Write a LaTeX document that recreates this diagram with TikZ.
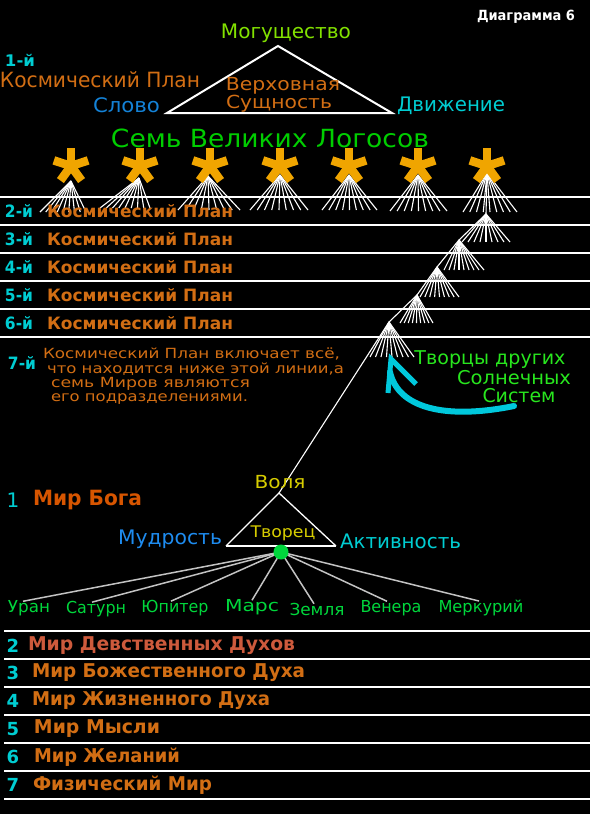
\documentclass[tikz,border=0pt]{standalone}
\usepackage{fontspec}
\usepackage{graphicx}
\setmainfont{DejaVu Sans}
\definecolor{orng}{RGB}{210,110,20}
\definecolor{orng2}{RGB}{205,90,60}
\definecolor{cyn}{RGB}{0,205,210}
\definecolor{blu}{RGB}{20,130,215}
\definecolor{limec}{RGB}{130,225,0}
\definecolor{grn}{RGB}{0,205,0}
\definecolor{starc}{RGB}{240,165,0}
\definecolor{tgrn}{RGB}{40,230,30}
\definecolor{yel}{RGB}{215,205,0}
\definecolor{mblu}{RGB}{30,140,240}
\definecolor{pgrn}{RGB}{0,215,60}
\definecolor{mirc}{RGB}{215,85,0}
\definecolor{arrc}{RGB}{0,200,220}
\definecolor{lgray}{RGB}{195,195,195}
\newcommand\fsz[1]{\fontsize{#1}{#1}\selectfont}
\newcommand\tx[2]{\resizebox{#1pt}{\height}{#2}}
\tikzset{
  lbl/.style={inner sep=0pt, outer sep=0pt},
  hline/.style={white, line width=2pt},
  fanline/.style={white, line width=1.1pt},
  starln/.style={starc, line width=8.5pt},
  tri/.style={white, line width=2pt, line join=miter},
}
\newcommand\fan[4]{\foreach \i in {0,...,8} {\draw[fanline] (#1) -- ({#3+\i*(#4-#3)/8},#2);}}
\newcommand\astar[1]{\foreach \a in {-90,-18,-162,-234,-306} {\draw[starln] (#1) -- ++(\a:18);}}
\begin{document}
\begin{tikzpicture}[x=1pt,y=-1pt]
\fill[black] (0,0) rectangle (590,814);
\useasboundingbox (0,0) rectangle (590,814);

% title
\node[lbl, white, font=\fsz{14}\bfseries] (title) at (526,17) {\tx{98}{Диаграмма 6}};

% top triangle
\coordinate (ta) at (278,46);
\coordinate (tl) at (167,113);
\coordinate (tr) at (392,113);
\draw[tri] (ta) -- (tl) -- (tr) -- cycle;
\node[lbl, limec, font=\fsz{20}] (mog) at (286,33) {\tx{130}{Могущество}};
\node[lbl, cyn, font=\fsz{16}\bfseries, anchor=west] (p1n) at (5,60) {\tx{30}{1-й}};
\node[lbl, orng, font=\fsz{21}, anchor=west] (p1t) at (0,80) {\tx{200}{Космический План}};
\node[lbl, orng, font=\fsz{18}] (verh) at (283,86) {\tx{114}{Верховная}};
\node[lbl, orng, font=\fsz{18}] (sush) at (279,104) {\tx{106}{Сущность}};
\node[lbl, blu, font=\fsz{20}, anchor=west] (slovo) at (93,105) {\tx{67}{Слово}};
\node[lbl, cyn, font=\fsz{20}, anchor=west] (dvizh) at (397,106) {\tx{108}{Движение}};
\node[lbl, grn, font=\fsz{25}] (logos) at (270,138) {\tx{318}{Семь Великих Логосов}};

% horizontal lines of cosmic planes
\foreach \yy/\nm in {197/c1,225/c2,253/c3,281/c4,309/c5,337/c6} {
  \coordinate (\nm l) at (0,\yy);
  \coordinate (\nm r) at (590,\yy);
  \draw[hline] (\nm l) -- (\nm r);
}

% fans under stars
\coordinate (f1) at (71,181);
\coordinate (f2) at (139,178);
\coordinate (f3) at (208,176);
\coordinate (f4) at (280,175);
\coordinate (f5) at (349,175);
\coordinate (f6) at (418,175);
\coordinate (f7) at (487,173);
\coordinate (f8) at (486,214);
\coordinate (f9) at (459,240);
\coordinate (f10) at (437,267);
\coordinate (f11) at (417,295);
\coordinate (f12) at (389,322);
\fan{f1}{212}{40}{86}
\fan{f2}{208}{100}{150}
\fan{f3}{210}{178}{240}
\fan{f4}{210}{250}{308}
\fan{f5}{210}{322}{377}
\fan{f6}{211}{390}{447}
\fan{f7}{212}{463}{517}
\fan{f8}{242}{462}{510}
\fan{f9}{270}{444}{484}
\fan{f10}{297}{420}{459}
\fan{f11}{323}{400}{433}
\fan{f12}{357}{370}{414}
\draw[fanline] (f7) -- (f8) -- (f9) -- (f10) -- (f11) -- (f12);

% stars
\foreach \sx/\nm in {71/s1,140/s2,210/s3,280/s4,349/s5,418/s6,487/s7} {
  \coordinate (\nm) at (\sx,166);
  \astar{\nm}
}

% cosmic plane labels
\foreach \yy/\n in {211/2,239/3,267/4,295/5,323/6} {
  \node[lbl, cyn, font=\fsz{17}\bfseries, anchor=west] (pn\n) at (5,\yy) {\tx{28}{\n-й}};
  \node[lbl, orng, font=\fsz{17}\bfseries, anchor=west] (pt\n) at (47,\yy) {\tx{186}{Космический План}};
}
\node[lbl, cyn, font=\fsz{17}\bfseries, anchor=west] (pn7) at (8,363) {\tx{28}{7-й}};
\node[lbl, orng, font=\fsz{14}, anchor=west] (para1) at (43,354) {\tx{297}{Космический План включает всё,}};
\node[lbl, orng, font=\fsz{14}, anchor=west] (para2) at (47,369) {\tx{297}{что находится ниже этой линии,а}};
\node[lbl, orng, font=\fsz{14}, anchor=west] (para3) at (51,384) {\tx{199}{семь Миров являются}};
\node[lbl, orng, font=\fsz{14}, anchor=west] (para4) at (51,399) {\tx{197}{его подразделениями.}};

% creators of other solar systems
\node[lbl, tgrn, font=\fsz{19}] (tv1) at (490,360) {\tx{151}{Творцы других}};
\node[lbl, tgrn, font=\fsz{19}] (tv2) at (514,378) {\tx{114}{Солнечных}};
\node[lbl, tgrn, font=\fsz{19}] (tv3) at (519,396) {\tx{73}{Систем}};

% cyan arrow
\coordinate (as) at (514,406);
\coordinate (at) at (391,359);
\coordinate (aa1) at (388,393);
\coordinate (aa2) at (416,384);
\draw[arrc, line width=6pt, line cap=round] (as) .. controls (445,420) and (398,408) .. (390,372);
\draw[arrc, line width=5pt, line cap=butt, line join=miter] (aa1) -- (at) -- (aa2);

% lower triangle
\coordinate (la) at (279,493);
\coordinate (ll) at (226,546);
\coordinate (lr) at (336,546);
\draw[fanline] (f12) -- (la);
\draw[white, line width=1.3pt] (ll) -- (la) -- (lr);
\draw[white, line width=2.5pt] (ll) -- (lr);
\node[lbl, yel, font=\fsz{18}] (volya) at (280,482) {\tx{51}{Воля}};
\node[lbl, mblu, font=\fsz{20}, anchor=west] (mudr) at (118,539) {\tx{104}{Мудрость}};
\node[lbl, cyn, font=\fsz{20}, anchor=west] (aktiv) at (340,541) {\tx{121}{Активность}};
\node[lbl, yel, font=\fsz{16}] (tvorets) at (283,533) {\tx{65}{Творец}};
\node[lbl, cyn, font=\fsz{20}] (n1) at (13,500) {1};
\node[lbl, mirc, font=\fsz{21}\bfseries, anchor=west] (mirboga) at (33,500) {\tx{109}{Мир Бога}};

% planets
\node[lbl, pgrn, font=\fsz{16.5}] (p1) at (29,608) {\tx{42}{Уран}};
\node[lbl, pgrn, font=\fsz{16.5}] (p2) at (96,609) {\tx{60}{Сатурн}};
\node[lbl, pgrn, font=\fsz{16.5}] (p3) at (175,608) {\tx{67}{Юпитер}};
\node[lbl, pgrn, font=\fsz{16.5}] (p4) at (252,607) {\tx{54}{Марс}};
\node[lbl, pgrn, font=\fsz{16.5}] (p5) at (317,609) {\tx{55}{Земля}};
\node[lbl, pgrn, font=\fsz{16.5}] (p6) at (391,608) {\tx{61}{Венера}};
\node[lbl, pgrn, font=\fsz{16.5}] (p7) at (481,608) {\tx{85}{Меркурий}};
\coordinate (dotc) at (281,552);
\foreach \p/\dx in {p1/-6,p2/-4,p3/-4,p4/0,p5/-3,p6/-4,p7/-2} {
  \draw[lgray, line width=1.5pt] (dotc) -- ([xshift=\dx pt, yshift=-1pt]\p.north);
}
\fill[pgrn] (dotc) circle (7.5);

% seven worlds
\foreach \yy/\nm in {631/w1,659/w2,687/w3,715/w4,743/w5,771/w6,799/w7} {
  \coordinate (\nm l) at (4,\yy);
  \coordinate (\nm r) at (590,\yy);
  \draw[hline] (\nm l) -- (\nm r);
}
\foreach \yy/\n in {646/2,673/3,701/4,729/5,757/6,785/7} {
  \node[lbl, cyn, font=\fsz{18}\bfseries] (wn\n) at (13,\yy) {\n};
}
\node[lbl, orng2, font=\fsz{19}\bfseries, anchor=west] (wt2) at (28,646) {\tx{267}{Мир Девственных Духов}};
\node[lbl, orng, font=\fsz{19}\bfseries, anchor=west] (wt3) at (32,673) {\tx{273}{Мир Божественного Духа}};
\node[lbl, orng, font=\fsz{19}\bfseries, anchor=west] (wt4) at (32,701) {\tx{238}{Мир Жизненного Духа}};
\node[lbl, orng, font=\fsz{19}\bfseries, anchor=west] (wt5) at (34,729) {\tx{126}{Мир Мысли}};
\node[lbl, orng, font=\fsz{19}\bfseries, anchor=west] (wt6) at (34,757) {\tx{146}{Мир Желаний}};
\node[lbl, orng, font=\fsz{19}\bfseries, anchor=west] (wt7) at (33,785) {\tx{179}{Физический Мир}};
\end{tikzpicture}
\end{document}
